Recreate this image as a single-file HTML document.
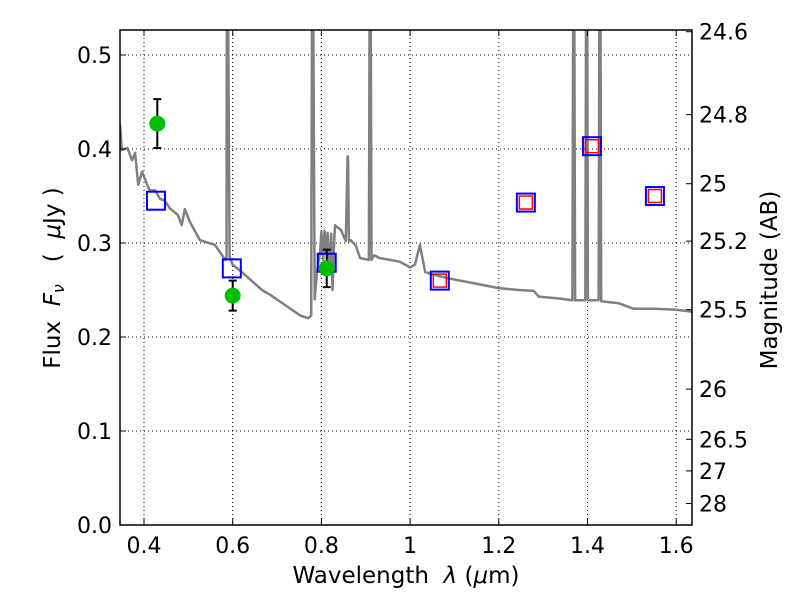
<!DOCTYPE html>
<html><head><meta charset="utf-8"><style>
body{margin:0;background:#fff;}
svg text{font-family:"DejaVu Sans","Liberation Sans",sans-serif;}
</style></head><body>
<svg id="chart" width="800" height="600" xmlns="http://www.w3.org/2000/svg">
<rect width="800" height="600" fill="#fff"/>
<g id="grid"></g>
<g id="plot"></g>
<g id="axes"></g>
<text x="406" y="583" font-size="23" text-anchor="middle" xml:space="preserve">Wavelength  <tspan font-style="italic">λ</tspan> (<tspan font-style="italic">μ</tspan>m)</text>
<text transform="translate(60,278) rotate(-90)" font-size="23" text-anchor="middle" xml:space="preserve">Flux  <tspan font-style="italic">F<tspan font-size="16" dy="4">ν</tspan></tspan><tspan dy="-4">   (  </tspan><tspan font-style="italic">μ</tspan>Jy )</text>
<text transform="translate(777,280) rotate(-90)" font-size="23" text-anchor="middle">Magnitude (AB)</text>
</svg>
<script>
const xTicks=[0.4,0.6,0.8,1.0,1.2,1.4,1.6];
const xTickLabels=["0.4","0.6","0.8","1","1.2","1.4","1.6"];
const yTicks=[0,0.1,0.2,0.3,0.4,0.5];
const yTickLabels=["0.0","0.1","0.2","0.3","0.4","0.5"];
const magTicks=[24.6,24.8,25,25.2,25.5,26,26.5,27,28];
const magTickLabels=["24.6","24.8","25","25.2","25.5","26","26.5","27","28"];
const specWave=[0.346,0.350,0.363,0.373,0.380,0.387,0.396,0.407,0.413,0.425,0.436,0.447,0.458,0.476,0.485,0.492,0.503,0.519,0.526,0.560,0.583,0.586,0.587,0.589,0.593,0.600,0.618,0.640,0.666,0.684,0.718,0.752,0.770,0.777,0.779,0.781,0.785,0.790,0.797,0.800,0.804,0.807,0.811,0.814,0.818,0.822,0.825,0.829,0.831,0.835,0.844,0.855,0.859,0.860,0.862,0.866,0.878,0.887,0.907,0.909,0.911,0.913,0.919,0.931,0.955,0.977,1.000,1.011,1.022,1.034,1.056,1.090,1.135,1.200,1.245,1.279,1.290,1.335,1.366,1.368,1.370,1.372,1.395,1.397,1.399,1.401,1.425,1.427,1.429,1.431,1.470,1.504,1.549,1.600,1.636];
const specFlux=[0.426,0.399,0.401,0.388,0.396,0.362,0.376,0.362,0.356,0.356,0.347,0.345,0.337,0.330,0.319,0.336,0.323,0.309,0.303,0.298,0.282,0.285,0.60,0.60,0.285,0.277,0.270,0.261,0.250,0.245,0.234,0.223,0.220,0.223,0.60,0.60,0.240,0.270,0.290,0.312,0.282,0.313,0.290,0.311,0.270,0.310,0.250,0.305,0.319,0.317,0.314,0.302,0.392,0.392,0.302,0.303,0.297,0.284,0.282,0.60,0.60,0.282,0.287,0.284,0.282,0.280,0.274,0.277,0.298,0.269,0.266,0.262,0.258,0.252,0.250,0.249,0.243,0.241,0.239,0.60,0.60,0.239,0.239,0.60,0.60,0.239,0.239,0.60,0.60,0.238,0.236,0.230,0.230,0.229,0.227];
const obsWave=[0.430,0.600,0.812];
const obsFlux=[0.427,0.244,0.273];
const obsErr=[0.026,0.016,0.020];
const modelWave=[0.427,0.598,0.812,1.067,1.261,1.410,1.552];
const modelFlux=[0.345,0.273,0.279,0.260,0.343,0.403,0.350];
const synWave=[1.067,1.261,1.410,1.552];
const synFlux=[0.260,0.343,0.403,0.350];

const L=120,R=692,T=30,B=525;
const xs=w=>144+(w-0.4)*443.5;
const ys=f=>525-f*940;
const ym=m=>ys(Math.pow(10,(23.9-m)/2.5));
const NS="http://www.w3.org/2000/svg";
function mk(parent,tag,attrs){const e=document.createElementNS(NS,tag);for(const k in attrs)e.setAttribute(k,attrs[k]);document.getElementById(parent).appendChild(e);return e;}

xTicks.forEach((t)=>{const g=mk('grid','line',{x1:xs(t),x2:xs(t),y1:T,y2:B,stroke:'#000','stroke-width':1,'stroke-dasharray':'1,3'});

});
yTicks.forEach((t)=>{const g=mk('grid','line',{x1:L,x2:R,y1:ys(t),y2:ys(t),stroke:'#000','stroke-width':1,'stroke-dasharray':'1,3'});

});

const defs=mk('plot','clipPath',{id:'clip'});
const cr=document.createElementNS(NS,'rect');cr.setAttribute('x',L);cr.setAttribute('y',T);cr.setAttribute('width',R-L);cr.setAttribute('height',B-T);defs.appendChild(cr);

let d='';specWave.forEach((w,i)=>{d+=(i?'L':'M')+xs(w).toFixed(1)+','+ys(specFlux[i]).toFixed(1);});
const sp=mk('plot','path',{d:d,fill:'none',stroke:'#808080','stroke-width':2.5,'clip-path':'url(#clip)','stroke-linejoin':'round'});



modelWave.forEach((w,i)=>{const s=mk('plot','rect',{x:xs(w)-9,y:ys(modelFlux[i])-9,width:18,height:18,fill:'none',stroke:'#0000ff','stroke-width':2});

});
synWave.forEach((w,i)=>{const s=mk('plot','rect',{x:xs(w)-6.5,y:ys(synFlux[i])-6.5,width:13,height:13,fill:'none',stroke:'#ff0000','stroke-width':1.5});

});

obsWave.forEach((w,i)=>{const x=xs(w),y1=ys(obsFlux[i]+obsErr[i]),y2=ys(obsFlux[i]-obsErr[i]);
const e=mk('plot','path',{d:`M${x},${y1}L${x},${y2}M${x-4},${y1}L${x+4},${y1}M${x-4},${y2}L${x+4},${y2}`,stroke:'#000','stroke-width':2,fill:'none'});


const c=mk('plot','circle',{cx:x,cy:ys(obsFlux[i]),r:8,fill:'#00bf00'});

});

const fr=mk('axes','rect',{x:L,y:T,width:R-L,height:B-T,fill:'none',stroke:'#000','stroke-width':1.5});


xTicks.forEach((t,i)=>{mk('axes','line',{x1:xs(t),x2:xs(t),y1:B,y2:B-6,stroke:'#000'});mk('axes','line',{x1:xs(t),x2:xs(t),y1:T,y2:T+6,stroke:'#000'});
const tx=mk('axes','text',{x:xs(t),y:553,'font-size':22,'text-anchor':'middle'});tx.textContent=xTickLabels[i];

});
yTicks.forEach((t,i)=>{mk('axes','line',{x1:L,x2:L+6,y1:ys(t),y2:ys(t),stroke:'#000'});
const tx=mk('axes','text',{x:112,y:ys(t)+8,'font-size':22,'text-anchor':'end'});tx.textContent=yTickLabels[i];

});
magTicks.forEach((m,i)=>{mk('axes','line',{x1:R,x2:R-6,y1:ym(m),y2:ym(m),stroke:'#000'});
const tx=mk('axes','text',{x:699,y:ym(m)+8,'font-size':22,'text-anchor':'start'});tx.textContent=magTickLabels[i];

});
</script>
</body></html>
